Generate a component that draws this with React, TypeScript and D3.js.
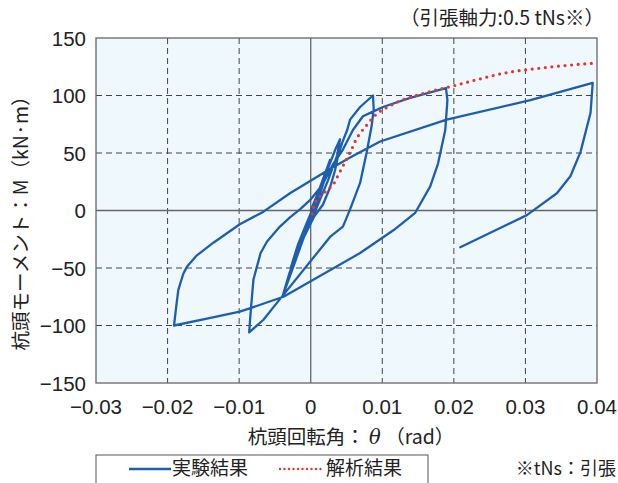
import React from "react";
import * as d3 from "d3";

const xTicks = [-0.03, -0.02, -0.01, 0, 0.01, 0.02, 0.03, 0.04];
const xTickLabels = ["−0.03", "−0.02", "−0.01", "0", "0.01", "0.02", "0.03", "0.04"];
const yTicks = [-150, -100, -50, 0, 50, 100, 150];
const yTickLabels = ["−150", "−100", "−50", "0", "50", "100", "150"];

const expTheta = [
  0, 0.001, 0.002, 0.0027, 0.0018, 0.0005, -0.001, -0.0022, -0.0028, -0.0018, -0.0005,
  0.001, 0.0025, 0.0035, 0.0041, 0.0037, 0.0024, 0.001, -0.001, -0.0025, -0.0039,
  -0.003, -0.0015, 0.0005, 0.0017, 0.0027, 0.0034, 0.0038, 0.0044, 0.0051, 0.0055, 0.0069, 0.0087,
  0.0088, 0.0085, 0.0078, 0.0069, 0.0055, 0.0045, 0.0027, -0.0039, -0.0052, -0.0066, -0.0086,
  -0.0084, -0.008, -0.007, -0.0061, -0.0043, -0.0029, -0.0015, -0.0001, 0.0016, 0.0031, 0.0045,
  0.0059, 0.0073, 0.0087, 0.0101, 0.0139, 0.0189,
  0.0191, 0.0188, 0.0178, 0.0167, 0.0146, 0.0116, 0.0069, -0.0038, -0.0099, -0.0145, -0.0191,
  -0.0188, -0.0185, -0.0178, -0.0173, -0.0159, -0.0136, -0.0099, -0.0066, -0.0029, 0.0024,
  0.0055, 0.0097, 0.019, 0.0307, 0.0394,
  0.0391, 0.0377, 0.0363, 0.0344, 0.0302, 0.0209,
];
const expMoment = [
  0, 15, 32, 44, 24, 0, -22, -40, -50, -30, -10,
  12, 38, 54, 62, 48, 26, 5, -24, -50, -74,
  -55, -30, -5, 5, 20, 35, 47, 59, 70, 79, 90, 100,
  88, 73, 50, 24, 1, -14, -23, -74, -84, -95, -106,
  -89, -60, -37, -27, -14, -6, 1, 9, 22, 40, 53,
  70, 82, 86, 90, 98, 106.5,
  96, 70, 41, 21, -2, -17, -37, -75, -88, -94, -100,
  -84, -69, -55, -49, -39, -28, -12, -1, 15, 35,
  46, 60, 79, 96, 111,
  85, 51, 30, 15, -4, -32,
];

// 解析結果 (analysis)
const anaTheta = [
  0.0002, 0.0005, 0.001, 0.0018, 0.0025, 0.0032, 0.0037, 0.0042, 0.0047, 0.0052, 0.0057,
  0.0062, 0.007, 0.0078, 0.0086, 0.0094, 0.0105, 0.012, 0.0145, 0.017, 0.02, 0.024, 0.0275,
  0.031, 0.0355, 0.0395,
];
const anaMoment = [
  -3, 5, 10, 15, 19, 23, 29, 35, 41, 47, 53,
  60, 68, 74, 80, 85, 89, 94, 99.5, 104, 108.5, 115, 120,
  123, 126, 128,
];

const BLUE = "#1d5eae";
const RED = "#e8362c";
const NUM_FONT = "'Liberation Sans', Arial, sans-serif";
const JP_FONT = "'Noto Sans CJK JP', 'Noto Sans', sans-serif";

export default function App() {
  const W = 618;
  const H = 483;
  const L = 96, R = 597, T = 38, B = 383;
  const x = d3.scaleLinear().domain([-0.03, 0.04]).range([L, R]);
  const y = d3.scaleLinear().domain([-150, 150]).range([B, T]);

  const line = d3
    .line<number>()
    .x((i) => x(expTheta[i]))
    .y((i) => y(expMoment[i]));
  const expPath = line(expTheta.map((_, i) => i)) || "";

  const aLine = d3
    .line<number>()
    .x((i) => x(anaTheta[i]))
    .y((i) => y(anaMoment[i]))
    .curve(d3.curveMonotoneX);
  const anaPath = aLine(anaTheta.map((_, i) => i)) || "";

  return (
    <svg
      width={W}
      height={H}
      style={{ position: "absolute", left: 0, top: 0, background: "#fff" }}
    >
      <rect x={L} y={T} width={R - L} height={B - T} fill="#eef8fd" />
      {/* grid */}
      {xTicks.map((t, i) =>
        t === 0 || i === 0 || i === xTicks.length - 1 ? null : (
          <line key={"gx" + i} x1={x(t)} x2={x(t)} y1={T} y2={B} stroke="#444" strokeWidth={1} strokeDasharray="6 4" />
        )
      )}
      {yTicks.map((t, i) =>
        t === 0 || i === 0 || i === yTicks.length - 1 ? null : (
          <line key={"gy" + i} x1={L} x2={R} y1={y(t)} y2={y(t)} stroke="#444" strokeWidth={1} strokeDasharray="6 4" />
        )
      )}
      <line x1={x(0)} x2={x(0)} y1={T} y2={B} stroke="#666" strokeWidth={1.3} />
      <line x1={L} x2={R} y1={y(0)} y2={y(0)} stroke="#666" strokeWidth={1.3} />
      <rect x={L} y={T} width={R - L} height={B - T} fill="none" stroke="#666" strokeWidth={1.3} />

      {/* curves */}
      <path d={expPath} fill="none" stroke={BLUE} strokeWidth={2.3} strokeLinejoin="round" strokeLinecap="round" />
      <path d={anaPath} fill="none" stroke={RED} strokeWidth={3.2} strokeDasharray="0 6.6" strokeLinecap="round" />

      {/* tick labels */}
      {xTicks.map((t, i) => (
        <text key={"xl" + i} x={x(t)} y={B + 31} textAnchor="middle" fontFamily={NUM_FONT} fontSize={20.5} fill="#222">
          {xTickLabels[i]}
        </text>
      ))}
      {yTicks.map((t, i) => (
        <text key={"yl" + i} x={L - 10} y={y(t) + 7.5} textAnchor="end" fontFamily={NUM_FONT} fontSize={20.5} fill="#222">
          {yTickLabels[i]}
        </text>
      ))}

      {/* axis titles */}
      <text x={351} y={444} textAnchor="middle" fontFamily={JP_FONT} fontSize={19.5} fill="#222">
        杭頭回転角： <tspan fontStyle="italic" fontFamily="'DejaVu Serif', serif">θ</tspan> （rad）
      </text>
      <text
        transform={`translate(28, ${(T + B) / 2 + 8}) rotate(-90)`}
        textAnchor="middle"
        fontFamily={JP_FONT}
        fontSize={19.5}
        fill="#222"
      >
        杭頭モーメント：M（kN·m）
      </text>

      {/* annotation */}
      <text x={604} y={25} textAnchor="end" fontFamily={JP_FONT} fontSize={19.5} fill="#222">
        （引張軸力:0.5 tNs※）
      </text>

      {/* legend */}
      <rect x={96} y={455} width={332} height={40} fill="#fff" stroke="#555" strokeWidth={1} />
      <line x1={129} x2={171} y1={469} y2={469} stroke={BLUE} strokeWidth={2.3} />
      <text x={172} y={475} fontFamily={JP_FONT} fontSize={19} fill="#222">実験結果</text>
      <line x1={280} x2={325} y1={469} y2={469} stroke={RED} strokeWidth={2.4} strokeDasharray="0 4.5" strokeLinecap="round" />
      <text x={326} y={475} fontFamily={JP_FONT} fontSize={19} fill="#222">解析結果</text>
      <text x={616} y={475} textAnchor="end" fontFamily={JP_FONT} fontSize={18} fill="#222">※tNs：引張</text>
    </svg>
  );
}
